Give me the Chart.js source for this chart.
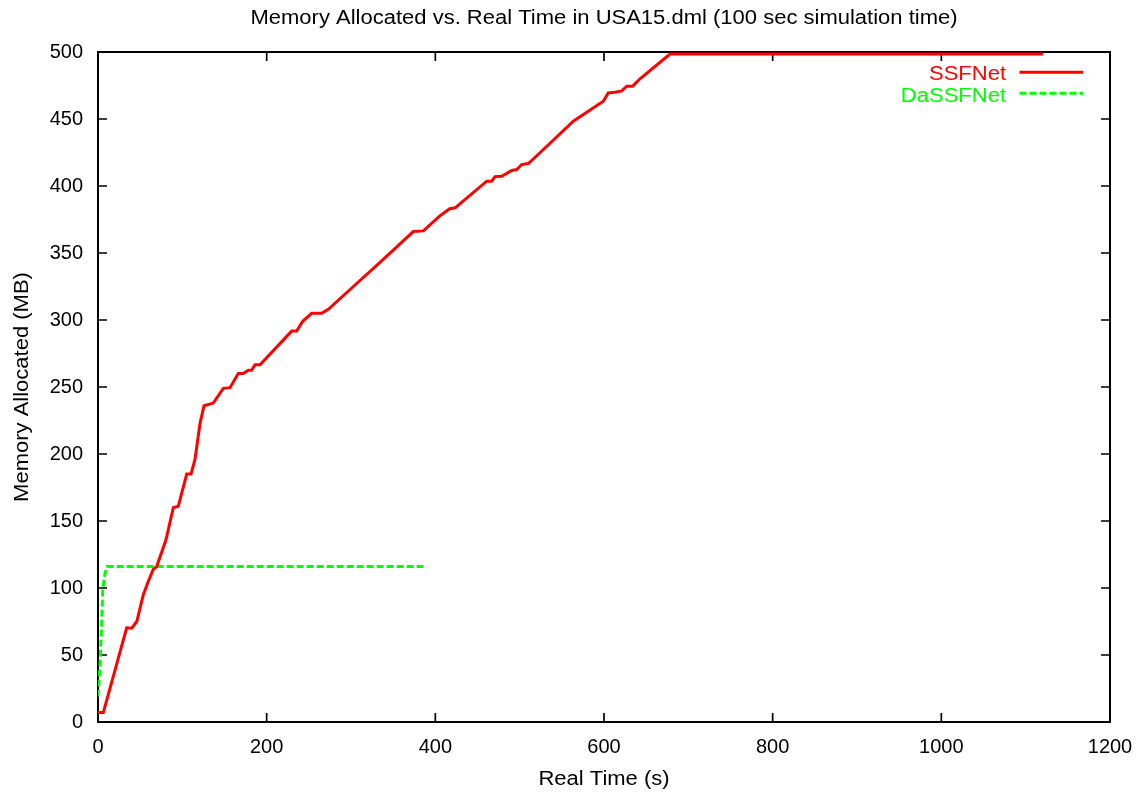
<!DOCTYPE html>
<html>
<head>
<meta charset="utf-8">
<script src="https://cdn.jsdelivr.net/npm/chart.js@4.4.0/dist/chart.umd.min.js"></script>
<style>
  html, body { margin: 0; padding: 0; background: #fff; }
  #wrap { width: 1141px; height: 795px; }
</style>
</head>
<body>
<div id="wrap"><canvas id="c" width="1141" height="795"></canvas></div>
<script>
// ---- data ----
const chartTitle = "Memory Allocated vs. Real Time in USA15.dml (100 sec simulation time)";
const xTitle = "Real Time (s)";
const yTitle = "Memory Allocated (MB)";
const seriesNames = ["SSFNet", "DaSSFNet"];

const ssfTime = [0, 6.3, 34, 40, 46, 53.7, 59.7, 65.6, 69.6, 80.6, 89.3, 95.2, 105.2, 110.3, 115, 121, 125.7, 136.7,
  148.6, 156.5, 166.4, 172.3, 178.2, 182.2, 186.2, 192.1, 229.7, 235.6, 242.7, 253.4, 265.3, 273.1, 302.8, 334.4,
  373.9, 385.8, 405, 417, 423.5, 460.9, 466.8, 470.8, 478.7, 490.6, 496.5, 502.4, 510.3, 524.1, 563.6, 599.2, 605.1,
  613, 621, 626.9, 634, 642.7, 678.3, 1120.5];
const ssfMem = [7, 7, 70.3, 70, 75, 95, 105, 114, 116, 136, 160, 161, 185, 185, 196, 223, 236, 238,
  249, 249.5, 260, 260, 262.5, 262.5, 266.6, 266.6, 291.7, 291.7, 299, 305, 305, 308, 325, 343,
  366, 366.5, 377.5, 383, 383.7, 403.6, 403.6, 407, 407.3, 411.6, 412.3, 416, 416.8, 424.8, 448.4, 463.3, 469.5,
  470, 471, 474.5, 474.5, 480, 498.5, 498.5];

const dassfTime = [0, 2.4, 4.4, 5.6, 8.3, 11, 386];
const dassfMem = [19, 42, 74, 99, 111, 116, 116];

const xTicks = [0, 200, 400, 600, 800, 1000, 1200];
const yTicks = [0, 50, 100, 150, 200, 250, 300, 350, 400, 450, 500];

const FONT = '"Liberation Sans", Arial, Helvetica, sans-serif';
const STRETCH = 1.1;

function pts(xs, ys) { return xs.map((x, i) => ({ x: x, y: ys[i] })); }

function stretchedText(ctx, text, x, y, align) {
  ctx.save();
  ctx.translate(x, y);
  ctx.scale(STRETCH, 1);
  ctx.textAlign = align;
  ctx.fillText(text, 0, 0);
  ctx.restore();
}

const framePlugin = {
  id: 'frame',
  beforeDatasetsDraw(chart) {
    const { ctx, chartArea: a, scales: { x, y } } = chart;
    ctx.save();
    ctx.strokeStyle = '#000';
    ctx.lineWidth = 2;
    ctx.strokeRect(a.left, a.top, a.right - a.left, a.bottom - a.top);
    ctx.lineWidth = 1.7;
    const L = 9;
    ctx.beginPath();
    xTicks.forEach(v => {
      const px = x.getPixelForValue(v);
      ctx.moveTo(px, a.bottom); ctx.lineTo(px, a.bottom - L);
      ctx.moveTo(px, a.top); ctx.lineTo(px, a.top + L);
    });
    yTicks.forEach(v => {
      const py = y.getPixelForValue(v);
      ctx.moveTo(a.left, py); ctx.lineTo(a.left + L, py);
      ctx.moveTo(a.right, py); ctx.lineTo(a.right - L, py);
    });
    ctx.stroke();
    ctx.restore();
  },
  afterDraw(chart) {
    const { ctx, chartArea: a } = chart;
    ctx.save();
    ctx.fillStyle = '#000';
    ctx.font = '20px ' + FONT;
    ctx.textBaseline = 'alphabetic';
    const cx = (a.left + a.right) / 2;
    stretchedText(ctx, chartTitle, cx, 24, 'center');
    stretchedText(ctx, xTitle, cx, 785, 'center');
    ctx.save();
    ctx.translate(27.5, (a.top + a.bottom) / 2);
    ctx.rotate(-Math.PI / 2);
    stretchedText(ctx, yTitle, 0, 0, 'center');
    ctx.restore();
    // legend
    const rows = [{ ty: 79.5, ly: 72.3 }, { ty: 101.5, ly: 93.3 }];
    chart.data.datasets.forEach((ds, i) => {
      const r = rows[i];
      ctx.fillStyle = ds.borderColor;
      stretchedText(ctx, ds.label, 1006, r.ty, 'right');
      ctx.strokeStyle = ds.borderColor;
      ctx.lineWidth = ds.borderWidth;
      ctx.setLineDash(ds.borderDash || []);
      ctx.beginPath();
      ctx.moveTo(1019.5, r.ly);
      ctx.lineTo(1083, r.ly);
      ctx.stroke();
      ctx.setLineDash([]);
    });
    ctx.restore();
  }
};

new Chart(document.getElementById('c'), {
  type: 'scatter',
  data: {
    datasets: [
      { label: seriesNames[0], data: pts(ssfTime, ssfMem), showLine: true, borderColor: '#ff0000',
        backgroundColor: '#ff0000', borderWidth: 3, pointRadius: 0, tension: 0, fill: false },
      { label: seriesNames[1], data: pts(dassfTime, dassfMem), showLine: true, borderColor: '#00ff00',
        backgroundColor: '#00ff00', borderWidth: 3, borderDash: [7, 3], pointRadius: 0, tension: 0, fill: false }
    ]
  },
  options: {
    responsive: false,
    animation: false,
    layout: { padding: { top: 52, right: 31, bottom: 0, left: 0 } },
    plugins: { legend: { display: false }, title: { display: false }, tooltip: { enabled: false } },
    scales: {
      x: {
        type: 'linear', min: 0, max: 1200,
        afterBuildTicks: s => { s.ticks = xTicks.map(v => ({ value: v })); },
        afterFit: s => { s.height = 73; s.paddingLeft = 0; s.paddingRight = 0; },
        grid: { display: false, drawTicks: false },
        border: { display: false },
        ticks: { color: '#000', font: { family: FONT, size: 20 }, padding: 13, maxRotation: 0, callback: v => String(v) }
      },
      y: {
        type: 'linear', min: 0, max: 500,
        afterBuildTicks: s => { s.ticks = yTicks.map(v => ({ value: v })); },
        afterFit: s => { s.width = 98; s.paddingTop = 0; s.paddingBottom = 0; },
        grid: { display: false, drawTicks: false },
        border: { display: false },
        ticks: { color: '#000', font: { family: FONT, size: 20 }, padding: 15, callback: v => String(v) }
      }
    }
  },
  plugins: [framePlugin]
});
</script>
</body>
</html>
